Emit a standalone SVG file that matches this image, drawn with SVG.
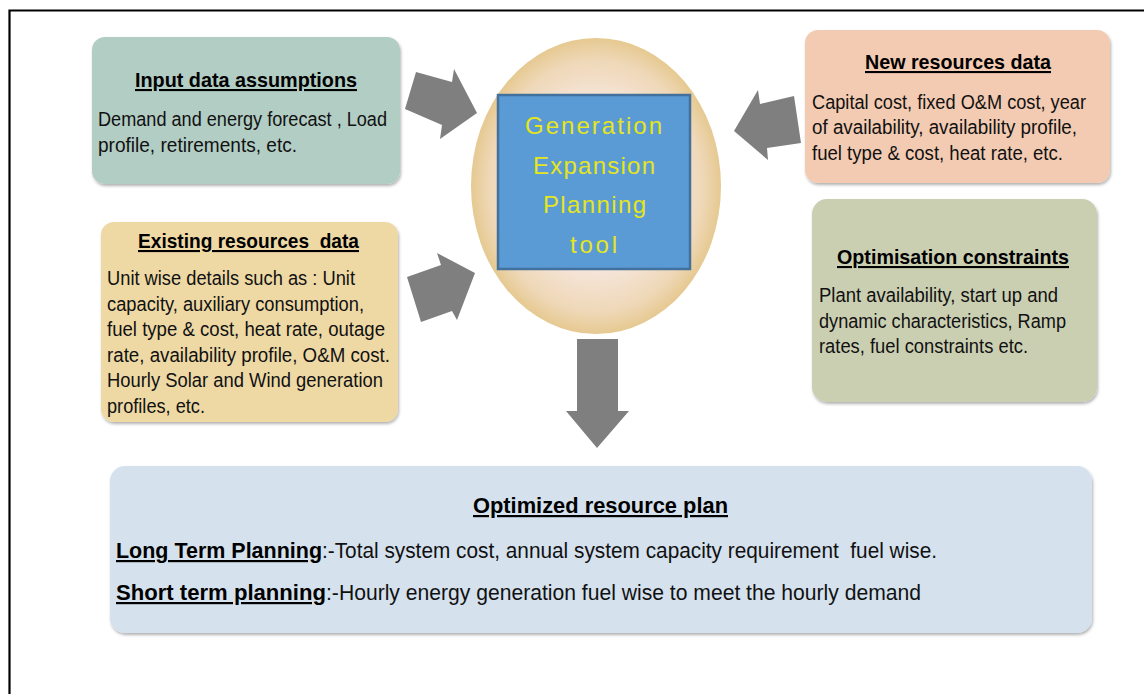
<svg xmlns="http://www.w3.org/2000/svg" width="1144" height="694" viewBox="0 0 1144 694">
<defs>
<style>
.t{font-family:"Liberation Sans",Arial,sans-serif;font-size:21px;font-weight:bold;fill:#000;text-decoration:underline;text-anchor:start}
.b{font-family:"Liberation Sans",Arial,sans-serif;font-size:19.5px;fill:#111}
.bt{font-family:"Liberation Sans",Arial,sans-serif;font-size:22px;font-weight:bold;fill:#000;text-decoration:underline}
.bb{font-family:"Liberation Sans",Arial,sans-serif;font-size:22px;fill:#111}
.y{font-family:"Liberation Sans",Arial,sans-serif;font-size:24px;fill:#e6e61a;text-anchor:start}
.arr{fill:#7f7f7f}
</style>
<filter id="sh" x="-5%" y="-5%" width="110%" height="115%">
<feDropShadow dx="1" dy="2" stdDeviation="1.5" flood-color="#000" flood-opacity="0.3"/>
</filter>
<radialGradient id="eg" cx="0.5" cy="0.5" r="0.5">
<stop offset="0" stop-color="#fbf2ee"/>
<stop offset="0.55" stop-color="#f6e6dc"/>
<stop offset="0.85" stop-color="#efd8b8"/>
<stop offset="1" stop-color="#e6c991"/>
</radialGradient>
</defs>
<rect width="1144" height="694" fill="#fff"/>
<path d="M9.5,694 V10.5 H1144" fill="none" stroke="#000" stroke-width="2.2"/>

<g id="connectors">
<polygon class="arr" points="416,72 452,82 454,69 477,113 440,139 442,125 405,109"/>
<polygon class="arr" points="734,131 758,90 760,104 794,96 801,143 767,148 768,160"/>
<polygon class="arr" points="407,277 441,265 437,253 475,273 457,320 452,311 421,322"/>
<polygon class="arr" points="577,339 618,339 618,411 629,411 597,448 566,411 577,411"/>
</g>

<g id="tool">
<ellipse cx="596" cy="186" rx="125" ry="148" fill="url(#eg)"/>
<rect x="498" y="95" width="192" height="174" fill="#5b9bd5" stroke="#41719c" stroke-width="2.5"/>
<text class="y" x="525" y="134" textLength="137">Generation</text>
<text class="y" x="533" y="174" textLength="122">Expansion</text>
<text class="y" x="543" y="213" textLength="103">Planning</text>
<text class="y" x="570" y="253" textLength="47">tool</text>
</g>

<g id="input-data">
<rect x="92" y="37" width="308" height="147" rx="13" fill="#b2cdc4" filter="url(#sh)"/>
<text class="t" x="135" y="87" textLength="222" lengthAdjust="spacingAndGlyphs">Input data assumptions</text>
<text class="b" x="98" y="126" textLength="289" lengthAdjust="spacingAndGlyphs">Demand and energy forecast , Load</text>
<text class="b" x="98" y="152" textLength="199" lengthAdjust="spacingAndGlyphs">profile, retirements, etc.</text>
</g>

<g id="new-resources">
<rect x="805" y="30" width="305" height="153" rx="13" fill="#f3cbb2" filter="url(#sh)"/>
<text class="t" x="865" y="69" textLength="186" lengthAdjust="spacingAndGlyphs">New resources data</text>
<text class="b" x="812" y="108.5" textLength="274" lengthAdjust="spacingAndGlyphs">Capital cost, fixed O&amp;M cost, year</text>
<text class="b" x="812" y="134" textLength="265" lengthAdjust="spacingAndGlyphs">of availability, availability profile,</text>
<text class="b" x="812" y="159.5" textLength="251" lengthAdjust="spacingAndGlyphs">fuel type &amp; cost, heat rate, etc.</text>
</g>

<g id="existing-resources">
<rect x="101" y="222" width="297" height="200" rx="13" fill="#eed9a5" filter="url(#sh)"/>
<text class="t" x="138" y="248" textLength="221" lengthAdjust="spacingAndGlyphs" xml:space="preserve">Existing resources  data</text>
<text class="b" x="107" y="285" textLength="248" lengthAdjust="spacingAndGlyphs">Unit wise details such as : Unit</text>
<text class="b" x="107" y="310.5" textLength="257" lengthAdjust="spacingAndGlyphs">capacity, auxiliary consumption,</text>
<text class="b" x="107" y="336" textLength="278" lengthAdjust="spacingAndGlyphs">fuel type &amp; cost, heat rate, outage</text>
<text class="b" x="107" y="361.5" textLength="283" lengthAdjust="spacingAndGlyphs">rate, availability profile, O&amp;M cost.</text>
<text class="b" x="107" y="387" textLength="276" lengthAdjust="spacingAndGlyphs">Hourly Solar and Wind generation</text>
<text class="b" x="107" y="412.5" textLength="98" lengthAdjust="spacingAndGlyphs">profiles, etc.</text>
</g>

<g id="optimisation-constraints">
<rect x="812" y="199" width="285" height="203" rx="15" fill="#cbcfb2" filter="url(#sh)"/>
<text class="t" x="837" y="264" textLength="232" lengthAdjust="spacingAndGlyphs">Optimisation constraints</text>
<text class="b" x="819" y="302" textLength="239" lengthAdjust="spacingAndGlyphs">Plant availability, start up and</text>
<text class="b" x="819" y="327.5" textLength="247" lengthAdjust="spacingAndGlyphs">dynamic characteristics, Ramp</text>
<text class="b" x="819" y="353" textLength="209" lengthAdjust="spacingAndGlyphs">rates, fuel constraints etc.</text>
</g>

<g id="optimized-plan">
<rect x="110" y="466" width="982" height="167" rx="15" fill="#d5e2ee" filter="url(#sh)"/>
<text class="bt" x="473" y="513" textLength="255" lengthAdjust="spacingAndGlyphs">Optimized resource plan</text>
<text class="bt" x="116" y="558" textLength="206" lengthAdjust="spacingAndGlyphs">Long Term Planning</text>
<text class="bb" x="322" y="558" textLength="615" lengthAdjust="spacingAndGlyphs" xml:space="preserve">:-Total system cost, annual system capacity requirement  fuel wise.</text>
<text class="bt" x="116" y="600" textLength="210" lengthAdjust="spacingAndGlyphs">Short term planning</text>
<text class="bb" x="326" y="600" textLength="595" lengthAdjust="spacingAndGlyphs">:-Hourly energy generation fuel wise to meet the hourly demand</text>
</g>
</svg>
